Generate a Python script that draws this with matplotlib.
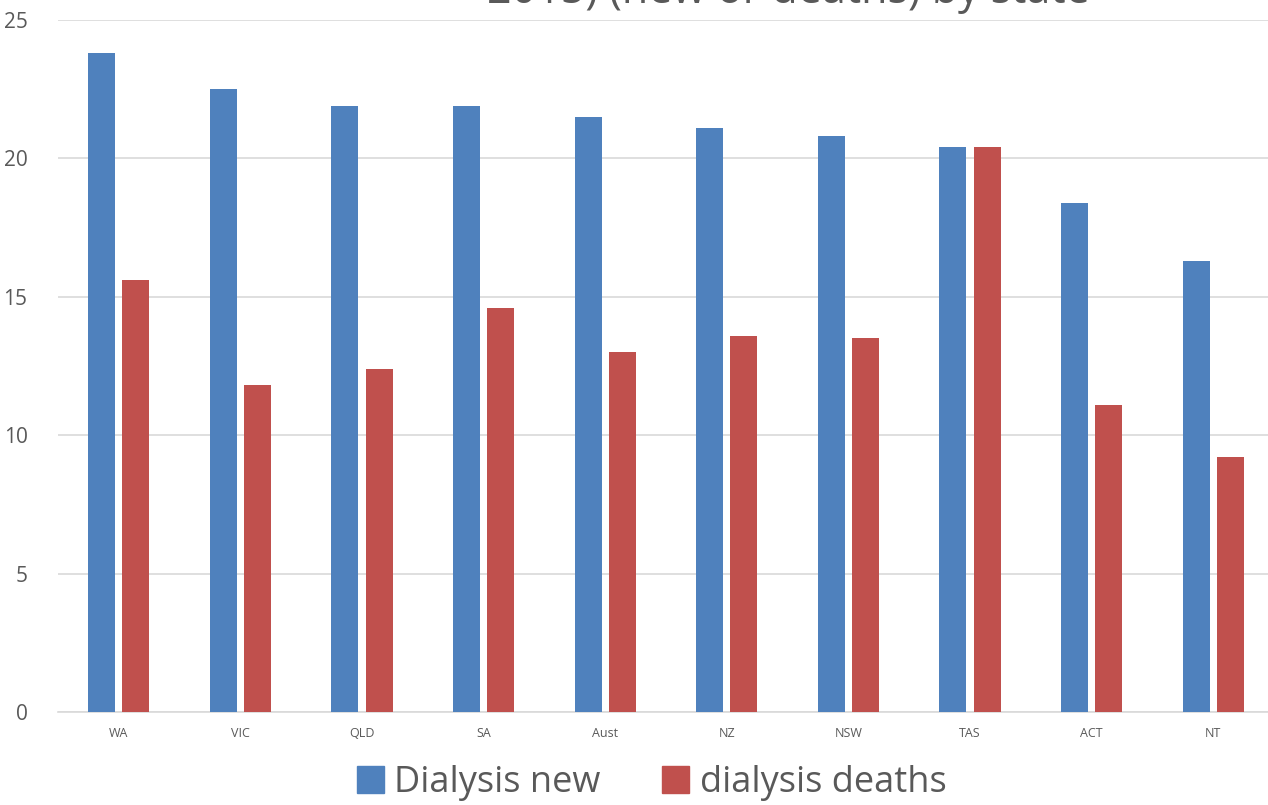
import numpy as np
import matplotlib
matplotlib.use('Agg')
from matplotlib import pyplot as plt
from matplotlib.patches import Patch

# data
states = ['WA', 'VIC', 'QLD', 'SA', 'Aust', 'NZ', 'NSW', 'TAS', 'ACT', 'NT']
dialysis_new = [23.8, 22.5, 21.9, 21.9, 21.5, 21.1, 20.8, 20.4, 18.4, 16.3]
dialysis_deaths = [15.6, 11.8, 12.4, 14.6, 13.0, 13.6, 13.5, 20.4, 11.1, 9.2]
yticks = [0, 5, 10, 15, 20, 25]

blue = '#4F81BD'
red = '#C0504D'
grey_text = '#595959'

plt.rcParams['font.family'] = ['Open Sans', 'DejaVu Sans']

fig = plt.figure(figsize=(12.68, 8.05), dpi=100)
ax = fig.add_axes([58 / 1268, 1 - 712 / 805, 1216 / 1268, (712 - 20) / 805])

x = np.arange(len(states))
w = 0.222
gap = 0.058
ax.bar(x - (w + gap) / 2, dialysis_new, width=w, color=blue, zorder=3)
ax.bar(x + (w + gap) / 2, dialysis_deaths, width=w, color=red, zorder=3)

ax.set_xlim(-0.5, len(states) - 0.5)
ax.set_ylim(0, 25)
ax.set_yticks(yticks)
ax.yaxis.grid(True, color='#d9d9d9', linewidth=1.2, zorder=0)
for s in ['top', 'right', 'left']:
    ax.spines[s].set_visible(False)
ax.spines['bottom'].set_color('#d9d9d9')
ax.spines['bottom'].set_linewidth(1.2)

ax.set_xticks(x)
ax.set_xticklabels(states, fontsize=9, color=grey_text)
ax.tick_params(axis='x', length=0, pad=11)
ax.tick_params(axis='y', length=0, pad=22, labelsize=15, labelcolor=grey_text)

# title is clipped by the top edge in the reference
fig.text(0.622, 1 - 3 / 805, '2015) (new or deaths) by state', ha='center', va='baseline',
         fontsize=31, color=grey_text)

handles = [Patch(color=blue), Patch(color=red)]
fig.legend(handles, ['Dialysis new', 'dialysis deaths'], loc='center',
           bbox_to_anchor=(0.514, 0.027), ncol=2, frameon=False, fontsize=26,
           handlelength=0.75, handleheight=0.75, handletextpad=0.3, columnspacing=1.7,
           labelcolor=grey_text)

fig.savefig('out.png', dpi=100)
